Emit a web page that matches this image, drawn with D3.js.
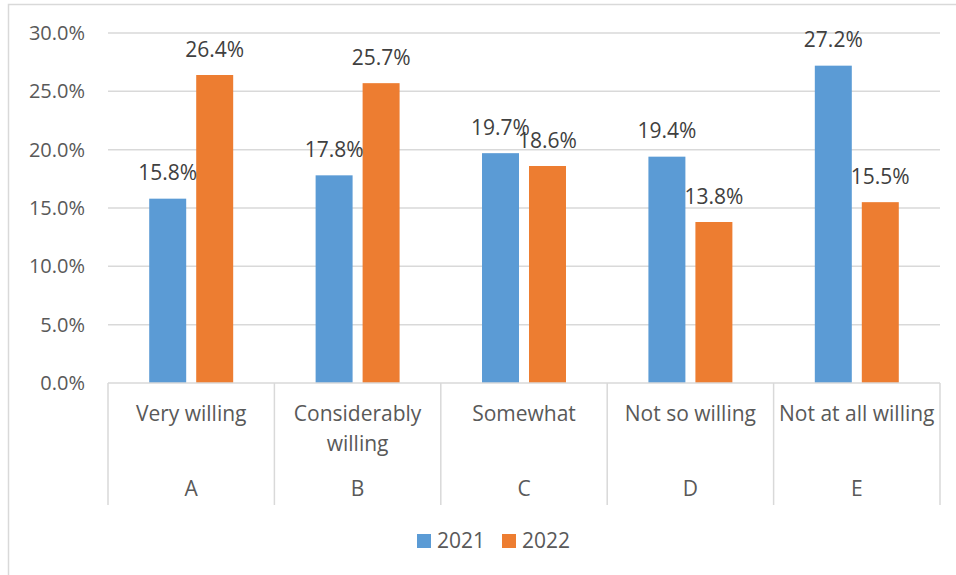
<!DOCTYPE html>
<html>
<head>
<meta charset="utf-8">
<script src="https://cdn.jsdelivr.net/npm/d3@7"></script>
<style>
  body { margin: 0; background: #fff; }
  text { font-family: "Open Sans", sans-serif; fill: #595959; }
</style>
</head>
<body>
<div id="chart"></div>
<script>
var codes = ["A", "B", "C", "D", "E"];
var labels = [["Very willing"], ["Considerably", "willing"], ["Somewhat"], ["Not so willing"], ["Not at all willing"]];
var series = ["2021", "2022"];
var values2021 = [15.8, 17.8, 19.7, 19.4, 27.2];
var values2022 = [26.4, 25.7, 18.6, 13.8, 15.5];
var yTicks = [0, 5, 10, 15, 20, 25, 30];
var colors = ["#5B9BD5", "#ED7D31"];

var width = 956, height = 575;
var svg = d3.select("#chart").append("svg")
    .attr("width", width)
    .attr("height", height);

// chart border
svg.append("rect")
    .attr("x", 8.5).attr("y", 4.5)
    .attr("width", 960).attr("height", 600)
    .attr("fill", "none")
    .attr("stroke", "#D9D9D9")
    .attr("stroke-width", 1.5);

var plotLeft = 108, plotRight = 940, plotTop = 33, plotBottom = 383;

var x0 = d3.scaleBand().domain(codes).range([plotLeft, plotRight]);
var x1 = d3.scaleBand().domain(series).range([0, x0.bandwidth()])
    .paddingInner(0.213).paddingOuter(0.877);
var y = d3.scaleLinear().domain([0, 30]).range([plotBottom, plotTop]);

// gridlines
svg.append("g").selectAll("line")
    .data(yTicks.slice(1))
    .enter().append("line")
    .attr("x1", plotLeft).attr("x2", plotRight)
    .attr("y1", function(d) { return y(d); })
    .attr("y2", function(d) { return y(d); })
    .attr("stroke", "#D9D9D9")
    .attr("stroke-width", 1.5);

// y tick labels
svg.append("g").selectAll("text")
    .data(yTicks)
    .enter().append("text")
    .attr("x", 85)
    .attr("y", function(d) { return y(d); })
    .attr("dy", "0.35em")
    .attr("text-anchor", "end")
    .style("font-size", "20px")
    .text(function(d) { return d3.format(".1f")(d) + "%"; });

// bars
var rows = codes.map(function(c, i) {
  return { code: c, vals: [values2021[i], values2022[i]] };
});

var groups = svg.append("g").selectAll("g")
    .data(rows)
    .enter().append("g")
    .attr("transform", function(d) { return "translate(" + x0(d.code) + ",0)"; });

groups.selectAll("rect")
    .data(function(d) { return d.vals.map(function(v, j) { return { s: series[j], v: v, j: j }; }); })
    .enter().append("rect")
    .attr("x", function(d) { return x1(d.s); })
    .attr("width", x1.bandwidth())
    .attr("y", function(d) { return y(d.v); })
    .attr("height", function(d) { return y(0) - y(d.v); })
    .attr("fill", function(d) { return colors[d.j]; });

groups.selectAll("text")
    .data(function(d) { return d.vals.map(function(v, j) { return { s: series[j], v: v }; }); })
    .enter().append("text")
    .attr("x", function(d) { return x1(d.s) + x1.bandwidth() / 2; })
    .attr("y", function(d) { return y(d.v) - 18.5; })
    .attr("text-anchor", "middle")
    .style("font-size", "21px")
    .style("fill", "#404040")
    .text(function(d) { return d.v.toFixed(1) + "%"; });

// category axis
svg.append("line")
    .attr("x1", plotLeft).attr("x2", plotRight)
    .attr("y1", plotBottom).attr("y2", plotBottom)
    .attr("stroke", "#D9D9D9")
    .attr("stroke-width", 1.5);

var edges = codes.map(function(c) { return x0(c); }).concat([plotRight]);
svg.append("g").selectAll("line")
    .data(edges)
    .enter().append("line")
    .attr("x1", function(d) { return d; })
    .attr("x2", function(d) { return d; })
    .attr("y1", plotBottom).attr("y2", 505)
    .attr("stroke", "#D9D9D9")
    .attr("stroke-width", 1.5);

var catText = svg.append("g").selectAll("text")
    .data(labels)
    .enter().append("text")
    .attr("text-anchor", "middle")
    .style("font-size", "21px");

catText.selectAll("tspan")
    .data(function(d, i) { return d.map(function(t) { return { t: t, i: i }; }); })
    .enter().append("tspan")
    .attr("x", function(d) { return x0(codes[d.i]) + x0.bandwidth() / 2; })
    .attr("y", function(d, k) { return 421 + k * 30; })
    .text(function(d) { return d.t; });

svg.append("g").selectAll("text")
    .data(codes)
    .enter().append("text")
    .attr("x", function(d) { return x0(d) + x0.bandwidth() / 2; })
    .attr("y", 496)
    .attr("text-anchor", "middle")
    .style("font-size", "21px")
    .text(function(d) { return d; });

// legend
var legend = svg.append("g").selectAll("g")
    .data(series)
    .enter().append("g")
    .attr("transform", function(d, i) { return "translate(" + (417 + i * 85) + ",534)"; });

legend.append("rect")
    .attr("width", 14).attr("height", 14)
    .attr("fill", function(d, i) { return colors[i]; });

legend.append("text")
    .attr("x", 20)
    .attr("y", 14)
    .style("font-size", "21px")
    .text(function(d) { return d; });
</script>
</body>
</html>
